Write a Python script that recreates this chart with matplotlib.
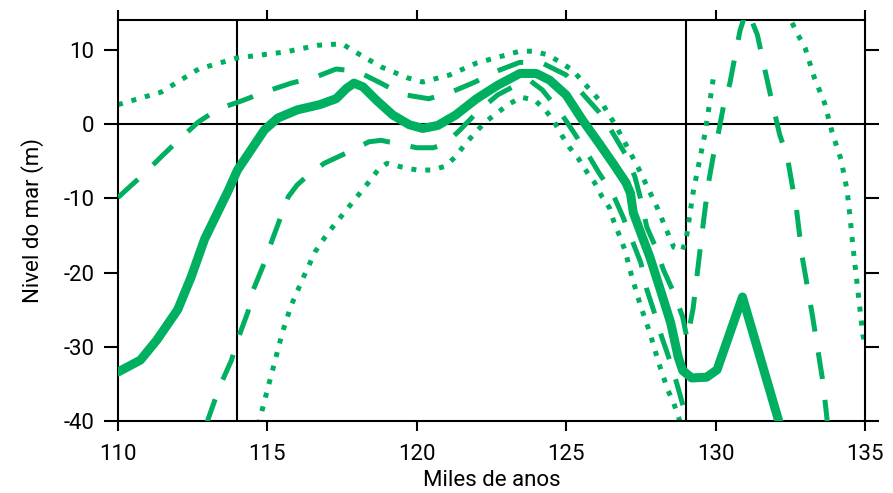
import numpy as np
import matplotlib
matplotlib.use("Agg")
import matplotlib.pyplot as plt

plt.rcParams['font.family'] = ['Roboto', 'DejaVu Sans']
plt.rcParams['axes.unicode_minus'] = False

verde = '#00B060'

# curva central (línea continua)
x_central = [110, 110.75, 111.3, 112.0, 112.45, 112.9, 113.3, 113.7, 114.0, 114.45, 114.9, 115.35,
             116.0, 116.75, 117.3, 117.65, 117.9, 118.2, 118.65, 119.2, 119.75, 120.2, 120.7, 121.3,
             122.0, 122.7, 123.45, 124.0, 124.45, 125.0, 125.55, 126.1, 126.55, 127.0, 127.15, 127.25,
             127.5, 127.8, 128.15, 128.5, 128.75, 128.9, 129.2, 129.7, 130.05, 130.9, 132.15]
y_central = [-33.4, -31.8, -29.1, -25.0, -20.6, -15.5, -12.2, -8.9, -6.2, -3.5, -0.8, 0.8,
             1.9, 2.6, 3.4, 4.8, 5.5, 5.0, 3.2, 1.2, -0.1, -0.6, -0.2, 1.2,
             3.4, 5.2, 6.8, 6.8, 5.9, 3.9, 0.5, -2.6, -5.2, -7.9, -9.3, -12.0,
             -14.7, -17.9, -22.3, -26.8, -31.4, -33.2, -34.2, -34.1, -33.1, -23.3, -40.5]

# límite superior (trazos)
x_sup_trazos = [110, 110.9, 111.45, 112.1, 112.7, 113.35, 114.2, 114.9, 115.8, 116.6, 117.3, 118.0,
                118.8, 119.5, 120.4, 121.1, 121.95, 122.6, 123.45, 124.2, 125.0, 125.5, 126.1, 126.5,
                127.0, 127.3, 127.5, 127.7, 128.04, 128.25, 128.6, 128.9, 129.05, 129.25, 129.45,
                129.6, 129.76, 129.92, 130.09, 130.26, 130.48, 130.65, 130.82, 131.05, 131.2, 131.4,
                131.65, 131.9, 132.15, 132.4, 132.55, 132.7, 132.9, 133.25, 133.6, 133.75]
y_sup_trazos = [-9.9, -6.6, -4.4, -1.9, 0.3, 2.0, 3.2, 4.3, 5.5, 6.3, 7.4, 7.1,
                5.5, 4.0, 3.4, 4.2, 5.65, 7.0, 8.3, 8.2, 6.6, 4.3, 1.6, -0.8,
                -4.2, -7.1, -10.2, -13.9, -17.0, -19.6, -22.7, -26.0, -29.0, -24.8, -18.0,
                -13.0, -8.0, -4.4, -1.3, 2.3, 5.5, 9.1, 12.6, 15.5, 14.0, 12.0,
                7.3, 2.8, -1.5, -4.4, -7.9, -11.2, -17.9, -26.0, -34.9, -40.5]

# límite inferior (trazos)
x_inf_trazos = [112.95, 113.4, 113.8, 114.0, 114.35, 114.5, 114.9, 115.1, 115.45, 115.7, 116.0, 116.25,
                116.9, 117.7, 118.4, 118.8, 119.3, 120.0, 120.55, 120.95, 121.45, 122.0, 122.7, 123.5,
                123.8, 124.2, 124.8, 125.2, 125.7, 126.1, 126.55, 126.9, 127.2, 127.5, 127.7, 128.0,
                128.2, 128.5, 128.7, 128.95, 129.08]
y_inf_trazos = [-40.5, -35.4, -31.8, -29.1, -25.3, -22.6, -18.7, -16.3, -12.5, -9.8, -8.2, -7.3,
                -5.3, -3.8, -2.4, -2.2, -2.6, -3.2, -3.2, -2.7, -0.8, 1.5, 3.9, 5.6,
                5.8, 4.6, 1.6, -0.8, -3.9, -6.6, -9.3, -12.5, -15.6, -18.7, -22.3, -26.0,
                -28.7, -32.2, -34.9, -38.5, -40.5]

# límite superior (puntos); el tramo se corta con nan
x_sup_puntos = [110, 111.45, 112.7, 114.0, 115.6, 116.7, 117.5, 117.9, 118.8, 119.7, 120.2, 121.1,
                122.0, 123.45, 123.9, 124.4, 125.2, 126.2, 126.7, 127.4, 128.04, 128.6, 128.9, 129.04,
                129.25, 129.65, 129.95, np.nan,
                132.35, 132.55, 132.76, 133.0, 133.3, 133.65, 133.9, 134.2, 134.4, 134.5, 134.6,
                134.93, 135.0]
y_sup_puntos = [2.6, 4.3, 7.4, 8.9, 9.7, 10.6, 10.8, 9.8, 7.7, 6.2, 5.65, 6.6,
                8.2, 9.8, 9.8, 9.3, 7.3, 2.8, -0.5, -5.8, -11.2, -16.6, -17.0, -14.9,
                -9.2, -1.2, 6.8, np.nan,
                15.3, 13.7, 12.0, 10.2, 6.3, 2.8, -1.1, -4.8, -8.9, -12.5, -16.6,
                -28.4, -29.5]

# límite inferior (puntos)
x_inf_puntos = [114.7, 115.0, 115.25, 115.5, 115.8, 116.2, 116.6, 116.9, 117.2, 117.5, 117.8, 118.1,
                118.4, 118.7, 119.0, 119.5, 120.0, 120.5, 120.95, 121.3, 121.6, 121.95, 122.3, 122.7,
                123.05, 123.5, 123.95, 124.3, 124.6, 124.85, 125.1, 125.4, 125.7, 125.95, 126.2, 126.45,
                126.6, 126.8, 126.97, 127.2, 127.5, 127.8, 128.1, 128.4, 128.6, 128.75, 128.85]
y_inf_puntos = [-40.5, -35.8, -32.0, -28.1, -24.4, -20.7, -17.2, -15.4, -13.8, -12.3, -10.8, -9.3,
                -7.8, -6.2, -5.3, -5.8, -6.2, -6.2, -5.7, -4.4, -2.8, -1.2, 0.3, 1.5,
                2.6, 3.6, 3.2, 1.9, 0.3, -1.5, -3.1, -4.6, -6.5, -7.9, -9.8, -11.3,
                -13.2, -15.2, -17.0, -20.6, -24.6, -28.1, -32.2, -35.8, -37.6, -39.4, -40.5]

lineas_verticales = [114, 129]
xticks = [110, 115, 120, 125, 130, 135]
yticks = [-40, -30, -20, -10, 0, 10]

fig = plt.figure(figsize=(8.93, 4.93), dpi=100)
ax = fig.add_axes([0.1321, 0.146, 0.8365, 0.8134])

# líneas de referencia
ax.axhline(0, color='black', lw=1.5, zorder=1)
for xv in lineas_verticales:
    ax.axvline(xv, color='black', lw=1.5, zorder=1)

ax.plot(x_sup_puntos, y_sup_puntos, color=verde, lw=3.6, dashes=(1, 1.8),
        dash_capstyle='butt', zorder=2)
ax.plot(x_inf_puntos, y_inf_puntos, color=verde, lw=3.6, dashes=(1, 1.8),
        dash_capstyle='butt', zorder=2)
ax.plot(x_sup_trazos, y_sup_trazos, color=verde, lw=3.6, dashes=(5.4, 4.2),
        dash_capstyle='butt', zorder=3)
ax.plot(x_inf_trazos, y_inf_trazos, color=verde, lw=3.6, dashes=(5.4, 4.2),
        dash_capstyle='butt', zorder=3)
ax.plot(x_central, y_central, color=verde, lw=6.5, solid_joinstyle='round',
        solid_capstyle='round', zorder=4)

ax.set_xlim(110, 135)
ax.set_ylim(-40, 14)
ax.set_xticks(xticks)
ax.set_yticks(yticks)
ax.tick_params(axis='x', direction='out', length=7.5, width=1.5, labelsize=16,
               top=True, pad=9)
ax.tick_params(axis='y', direction='out', length=10, width=1.5, labelsize=16,
               right=True, pad=7)
for s in ax.spines.values():
    s.set_linewidth(1.5)

ax.set_xlabel('Miles de anos', fontsize=16, labelpad=4)
ax.set_ylabel('Nivel do mar (m)', fontsize=16, labelpad=14)

fig.savefig('out.png', dpi=100)
